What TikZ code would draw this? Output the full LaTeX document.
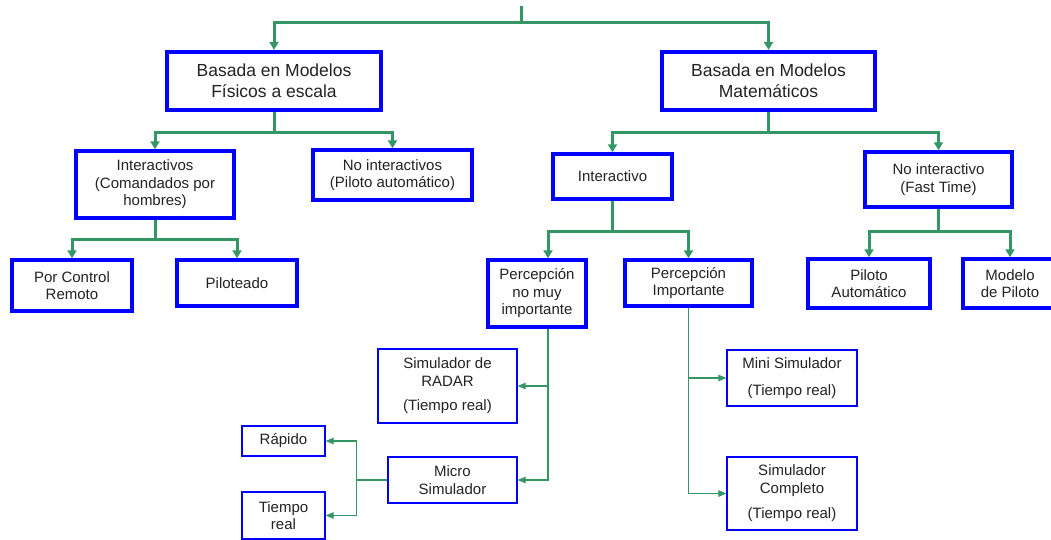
\documentclass[tikz,border=0pt]{standalone}
\usepackage{fontspec}
\setmainfont{Liberation Sans}
\usetikzlibrary{arrows.meta}
\definecolor{gr}{RGB}{51,150,100}
\definecolor{bl}{RGB}{0,0,255}
\definecolor{tx}{RGB}{34,34,34}
\begin{document}
\begin{tikzpicture}[x=1pt,y=-1pt,
  bigbox/.style={draw=bl, text=tx, line width=4.2pt, align=center, inner sep=0pt, font=\fontsize{17.5}{21}\selectfont},
  midbox/.style={draw=bl, text=tx, line width=3.5pt, align=center, inner sep=0pt, font=\fontsize{15}{17.5}\selectfont},
  thinbox/.style={draw=bl, text=tx, line width=1.3pt, align=center, inner sep=0pt, font=\fontsize{15}{17.5}\selectfont},
  gline/.style={draw=gr, line width=3pt},
  garrow/.style={gline, -{Triangle[length=8pt,width=9pt]}},
  tline/.style={draw=gr, line width=1.1pt},
  tarrow/.style={tline, -{Triangle[length=8pt,width=6.5pt]}}]
\useasboundingbox (0,0) rectangle (1051,539);
% big boxes
\node[bigbox, minimum width=214pt, minimum height=58pt] (A) at (274,81) {Basada en Modelos\\Físicos a escala};
\node[bigbox, minimum width=213pt, minimum height=58pt] (B) at (768.5,81) {Basada en Modelos\\Matemáticos};
% mid boxes
\node[midbox, minimum width=158pt, minimum height=67pt] (C) at (155,184.5) {Interactivos\\(Comandados por\\hombres)};
\node[midbox, minimum width=159pt, minimum height=50pt] (D) at (392.5,175) {No interactivos\\(Piloto automático)};
\node[midbox, minimum width=120pt, minimum height=51pt] (E) at (72,285.5) {Por Control\\Remoto};
\node[midbox, minimum width=120pt, minimum height=46pt] (F) at (237,283) {Piloteado};
\node[midbox, minimum width=119pt, minimum height=45pt] (G) at (612.5,176.5) {Interactivo};
\node[midbox, minimum width=147pt, minimum height=55pt] (H) at (938.5,179.5) {No interactivo\\(Fast Time)};
\node[midbox, minimum width=98pt, minimum height=67pt] (I) at (537,293.5) {Percepción\\no muy\\importante};
\node[midbox, minimum width=127pt, minimum height=46pt] (J) at (688.5,283) {Percepción\\Importante};
\node[midbox, minimum width=122pt, minimum height=49pt] (K) at (869,283.5) {Piloto\\Automático};
\node[midbox, minimum width=94pt, minimum height=49pt] (L) at (1010,283.5) {Modelo\\de Piloto};
% thin boxes
\node[thinbox, minimum width=139pt, minimum height=74pt] (M) at (447.5,386) {Simulador de\\RADAR\\[7pt](Tiempo real)};
\node[thinbox, minimum width=129pt, minimum height=46pt] (N) at (452.5,480) {Micro\\Simulador};
\node[thinbox, minimum width=83pt, minimum height=30pt] (O) at (283.5,441) {Rápido};
\node[thinbox, minimum width=83pt, minimum height=47pt] (P) at (283.5,515.5) {Tiempo\\real};
\node[thinbox, minimum width=130pt, minimum height=56pt] (Q) at (792,378) {Mini Simulador\\[9pt](Tiempo real)};
\node[thinbox, minimum width=130pt, minimum height=73pt] (R) at (792,493.5) {Simulador\\Completo\\[8pt](Tiempo real)};
% thick connectors
\coordinate (top) at (521,6);
\draw[gline] (top) -- (521,22) coordinate (rj);
\draw[garrow] (rj) -| (A.north);
\draw[garrow] (rj) -| (B.north);
\path (A.south) ++(0,20) coordinate (aj);
\draw[gline] (A.south) -- (aj);
\draw[garrow] (aj) -| (C.north);
\draw[garrow] (aj) -| (D.north);
\path (C.south) ++(0,20) coordinate (cj);
\draw[gline] (C.south) -- (cj);
\draw[garrow] (cj) -| (E.north);
\draw[garrow] (cj) -| (F.north);
\path (B.south) ++(0,20) coordinate (bj);
\draw[gline] (B.south) -- (bj);
\draw[garrow] (bj) -| (G.north);
\draw[garrow] (bj) -| (H.north);
\path (G.south) ++(0,31) coordinate (gj);
\draw[gline] (G.south) -- (gj);
\draw[garrow] (gj) -| ([xshift=11pt]I.north);
\draw[garrow] (gj) -| (J.north);
\path (H.south) ++(0,23) coordinate (hj);
\draw[gline] (H.south) -- (hj);
\draw[garrow] (hj) -| (K.north);
\draw[garrow] (hj) -| (L.north);
% thin connectors
\draw[tarrow] ([xshift=11pt]I.south) |- (N.east);
\draw[tarrow] ([xshift=11pt]I.south |- M.east) -- (M.east);
\draw[tarrow] (J.south) |- (R.west);
\draw[tarrow] (J.south |- Q.west) -- (Q.west);
\draw[tline] (N.west) -- ++(-31,0) coordinate (nj);
\draw[tarrow] (nj) |- (O.east);
\draw[tarrow] (nj) |- (P.east);
\end{tikzpicture}
\end{document}
